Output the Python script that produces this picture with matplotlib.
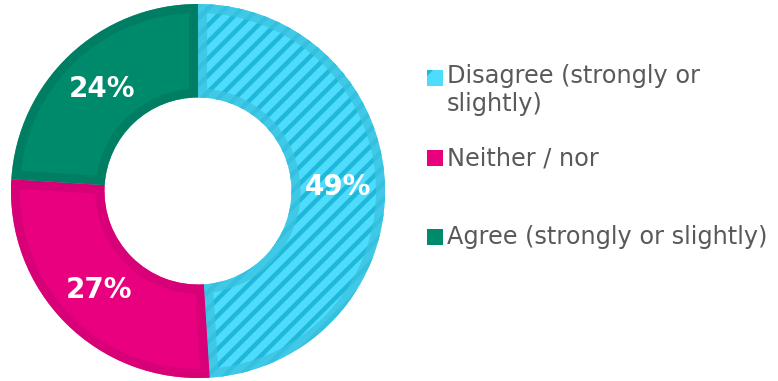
import numpy as np
import matplotlib.pyplot as plt
from matplotlib.patches import Rectangle

# data
labels = ["Disagree (strongly or\nslightly)", "Neither / nor", "Agree (strongly or slightly)"]
shares = [49, 27, 24]
pct_labels = ["49%", "27%", "24%"]

face_colors = ["#4ddcfb", "#e8007f", "#008a6c"]
edge_colors = ["#3cc3e0", "#d20073", "#007b60"]
hatch_color = "#20b8d9"

plt.rcParams["font.family"] = ["DejaVu Sans"]
plt.rcParams["hatch.linewidth"] = 3.2

fig = plt.figure(figsize=(7.78, 3.81), dpi=100)
W, H = 778, 381
cx, cy, R = 198, 191, 187
half = 191
ax = fig.add_axes([(cx - half) / W, (H - cy - half) / H, 2 * half / W, 2 * half / H])

ring = 0.5
wedges, _ = ax.pie(shares, startangle=90, counterclock=False, radius=1,
                   colors=face_colors, wedgeprops=dict(width=ring, linewidth=0))

# hatched stripes on the first slice
stripes, _ = ax.pie(shares, startangle=90, counterclock=False, radius=1,
                    colors=["none"] * 3, wedgeprops=dict(width=ring, linewidth=0))
stripes[0].set_hatch("//")
stripes[0].set_edgecolor(hatch_color)
for w in stripes[1:]:
    w.set_visible(False)

# darker inset border for each slice
borders, _ = ax.pie(shares, startangle=90, counterclock=False, radius=1,
                    colors=["none"] * 3, wedgeprops=dict(width=ring, linewidth=13))
for b, w, ec in zip(borders, wedges, edge_colors):
    b.set_edgecolor(ec)
    b.set_facecolor("none")
    b.set_alpha(0.75)
    b.set_clip_path(w)
    b.set_clip_on(True)

lim = half / R
ax.set_xlim(-lim, lim)
ax.set_ylim(-lim, lim)
ax.set_aspect("equal")
ax.axis("off")

# percentage labels
start = 90.0
for s, txt in zip(shares, pct_labels):
    mid = np.deg2rad(start - s * 3.6 / 2)
    start -= s * 3.6
    r = 1 - ring / 2
    ax.text(r * np.cos(mid), r * np.sin(mid), txt, ha="center", va="center",
            color="white", fontsize=20, fontweight="bold")

# legend
leg_y = [90, 158, 237]
box_y = [78, 158, 237]
for i, lab in enumerate(labels):
    rect = Rectangle((427 / W, (H - box_y[i] - 8) / H), 16 / W, 16 / H,
                     transform=fig.transFigure, facecolor=face_colors[i], linewidth=0)
    if i == 0:
        rect.set_hatch("/")
        rect.set_edgecolor(hatch_color)
    fig.patches.append(rect)
    fig.text(447 / W, (H - leg_y[i]) / H, lab, ha="left", va="center",
             fontsize=17.3, color="#595959", linespacing=1.2)

fig.savefig("out.png", dpi=100)
